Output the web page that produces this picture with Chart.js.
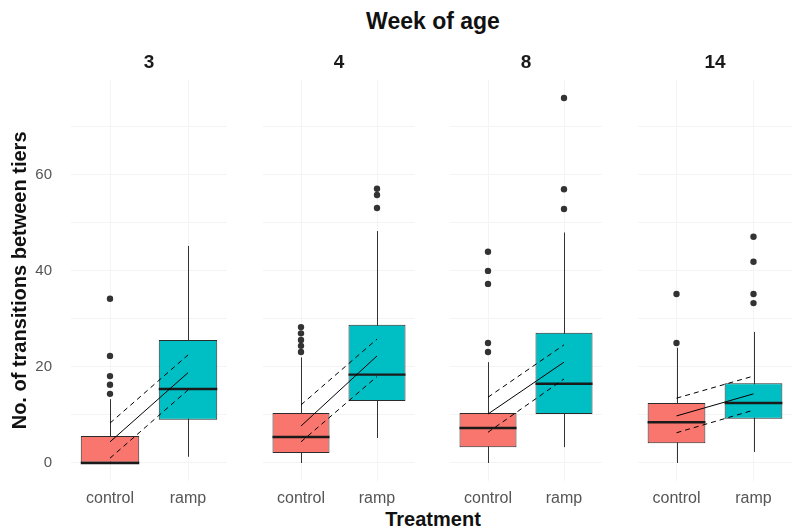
<!DOCTYPE html>
<html>
<head>
<meta charset="utf-8">
<script src="https://cdn.jsdelivr.net/npm/chart.js@4.4.1/dist/chart.umd.min.js"></script>
<style>
  html, body { margin: 0; padding: 0; background: #ffffff; }
  #wrap { position: relative; width: 801px; height: 530px; overflow: hidden; font-family: 'Liberation Sans', Arial, sans-serif; }
  #wrap canvas { position: absolute; top: 0; }
  .lbl { position: absolute; font-weight: bold; color: #111; white-space: nowrap; transform: translate(-50%, -50%); }
</style>
</head>
<body>
<div id="wrap">
  <div class="lbl" style="left:433px; top:21px; font-size:23px;">Week of age</div>
  <div class="lbl" style="left:433px; top:519px; font-size:20px;">Treatment</div>
  <canvas id="panel0"></canvas>
  <canvas id="panel1"></canvas>
  <canvas id="panel2"></canvas>
  <canvas id="panel3"></canvas>
</div>
<script>
// facet labels and categories
const weeks = ['3', '4', '8', '14'];
const treatments = ['control', 'ramp'];

// box statistics per week
const ctrlLow  = [0, 0, 0, 0];
const ctrlQ1   = [0, 2.1, 3.3, 4.1];
const ctrlMed  = [0, 5.4, 7.3, 8.5];
const ctrlQ3   = [5.6, 10.4, 10.4, 12.5];
const ctrlHigh = [13.3, 22, 21, 24];
const ctrlOut  = [[14.4, 16.3, 18.1, 22.3, 34.2], [23.1, 24.4, 25.6, 27, 28.3], [23.1, 25, 37.3, 40, 44], [25, 35.2]];

const rampLow  = [1.3, 5.2, 3.3, 2.3];
const rampQ1   = [9.0, 12.9, 10.2, 9.2];
const rampMed  = [15.4, 18.4, 16.5, 12.5];
const rampQ3   = [25.6, 28.8, 27.1, 16.6];
const rampHigh = [45.2, 48.3, 48, 27.3];
const rampOut  = [[], [53.1, 55.8, 57.1], [52.9, 57, 76], [33.3, 35.2, 41.9, 47.1]];

// fitted line with its confidence band (control -> ramp)
const fitCtrl   = [4.4, 7.7, 10.2, 9.8];
const fitRamp   = [18.8, 22.3, 21, 14.4];
const upperCtrl = [8.3, 12.1, 13.7, 13.5];
const upperRamp = [22.5, 25.8, 24.6, 18.1];
const lowerCtrl = [1, 4.4, 6.4, 6.3];
const lowerRamp = [15.2, 18, 17.5, 11];

// axis
const yTicks = [0, 10, 20, 30, 40, 50, 60, 70];
const yLabels = [0, 20, 40, 60];
const yMin = -3.75;
const yMax = 79.8;

const panelLeft = [0, 259, 446, 634];
const panelWidth = [231, 160, 160, 162];
const fontFamily = "'Liberation Sans', Arial, sans-serif";
const gridColor = '#f4f4f4';

// whiskers under the boxes, medians on top of them
const boxParts = {
    id: 'boxParts',
    beforeDatasetsDraw(chart, args, opts) {
        const { ctx, scales: { x, y } } = chart;
        ctx.save();
        ctx.strokeStyle = '#333333';
        ctx.lineWidth = 1;
        for (let j = 0; j < opts.low.length; j++) {
            const px = Math.round(x.getPixelForValue(j)) + 0.5;
            ctx.beginPath();
            ctx.moveTo(px, y.getPixelForValue(opts.low[j]));
            ctx.lineTo(px, y.getPixelForValue(opts.high[j]));
            ctx.stroke();
        }
        ctx.restore();
    },
    afterDatasetDraw(chart, args, opts) {
        if (args.index !== 0) return;
        const { ctx, scales: { y } } = chart;
        const bars = chart.getDatasetMeta(0).data;
        ctx.save();
        ctx.strokeStyle = '#1a1a1a';
        ctx.lineWidth = 2.4;
        bars.forEach((bar, j) => {
            const py = y.getPixelForValue(opts.median[j]);
            ctx.beginPath();
            ctx.moveTo(bar.x - bar.width / 2, py);
            ctx.lineTo(bar.x + bar.width / 2, py);
            ctx.stroke();
        });
        ctx.restore();
    }
};

function makePanel(i) {
    const first = i === 0;
    const canvas = document.getElementById('panel' + i);
    canvas.width = panelWidth[i];
    canvas.height = 530;
    canvas.style.left = panelLeft[i] + 'px';

    const outliers = ctrlOut[i].map(v => ({ x: 'control', y: v }))
        .concat(rampOut[i].map(v => ({ x: 'ramp', y: v })));

    new Chart(canvas.getContext('2d'), {
        type: 'bar',
        data: {
            labels: treatments,
            datasets: [
                {
                    type: 'bar',
                    label: 'box',
                    data: [[ctrlQ1[i], ctrlQ3[i]], [rampQ1[i], rampQ3[i]]],
                    backgroundColor: ['#F8766D', '#00BFC4'],
                    borderColor: '#2b2b2b',
                    borderWidth: 1,
                    borderSkipped: false,
                    barPercentage: 0.75,
                    categoryPercentage: 1,
                    order: 3
                },
                {
                    type: 'line',
                    label: 'outliers',
                    data: outliers,
                    showLine: false,
                    pointRadius: 3.2,
                    pointBackgroundColor: '#333333',
                    pointBorderWidth: 0,
                    order: 2
                },
                {
                    type: 'line',
                    label: 'fit',
                    data: [fitCtrl[i], fitRamp[i]],
                    borderColor: '#000000',
                    borderWidth: 1,
                    pointRadius: 0,
                    order: 1
                },
                {
                    type: 'line',
                    label: 'upper',
                    data: [upperCtrl[i], upperRamp[i]],
                    borderColor: '#000000',
                    borderWidth: 1,
                    borderDash: [5, 4],
                    pointRadius: 0,
                    order: 1
                },
                {
                    type: 'line',
                    label: 'lower',
                    data: [lowerCtrl[i], lowerRamp[i]],
                    borderColor: '#000000',
                    borderWidth: 1,
                    borderDash: [5, 4],
                    pointRadius: 0,
                    order: 1
                }
            ]
        },
        options: {
            responsive: false,
            animation: false,
            layout: { padding: 0 },
            plugins: {
                legend: { display: false },
                tooltip: { enabled: false },
                title: {
                    display: true,
                    fullSize: false,
                    text: weeks[i],
                    color: '#1a1a1a',
                    font: { family: fontFamily, size: 19, weight: 'bold', lineHeight: 1.2 },
                    padding: { top: 51, bottom: 6 }
                },
                boxParts: {
                    low: [ctrlLow[i], rampLow[i]],
                    high: [ctrlHigh[i], rampHigh[i]],
                    median: [ctrlMed[i], rampMed[i]]
                }
            },
            scales: {
                x: {
                    grid: { offset: false, color: gridColor, drawTicks: false },
                    border: { display: false },
                    ticks: {
                        color: '#555555',
                        font: { family: fontFamily, size: 16 },
                        padding: 8
                    },
                    afterFit: s => { s.height = 49; }
                },
                y: {
                    min: yMin,
                    max: yMax,
                    afterBuildTicks: s => { s.ticks = yTicks.map(v => ({ value: v })); },
                    grid: { color: gridColor, drawTicks: false },
                    border: { display: false },
                    ticks: {
                        display: first,
                        color: '#555555',
                        font: { family: fontFamily, size: 15 },
                        padding: 19,
                        callback: v => yLabels.includes(v) ? v : ''
                    },
                    title: {
                        display: first,
                        text: 'No. of transitions between tiers',
                        color: '#111111',
                        font: { family: fontFamily, size: 20, weight: 'bold', lineHeight: 1.2 },
                        padding: { top: 8, bottom: 0 }
                    },
                    afterFit: s => { s.width = first ? 71 : 0; }
                }
            }
        },
        plugins: [boxParts]
    });
}

weeks.forEach((w, i) => makePanel(i));
</script>
</body>
</html>
